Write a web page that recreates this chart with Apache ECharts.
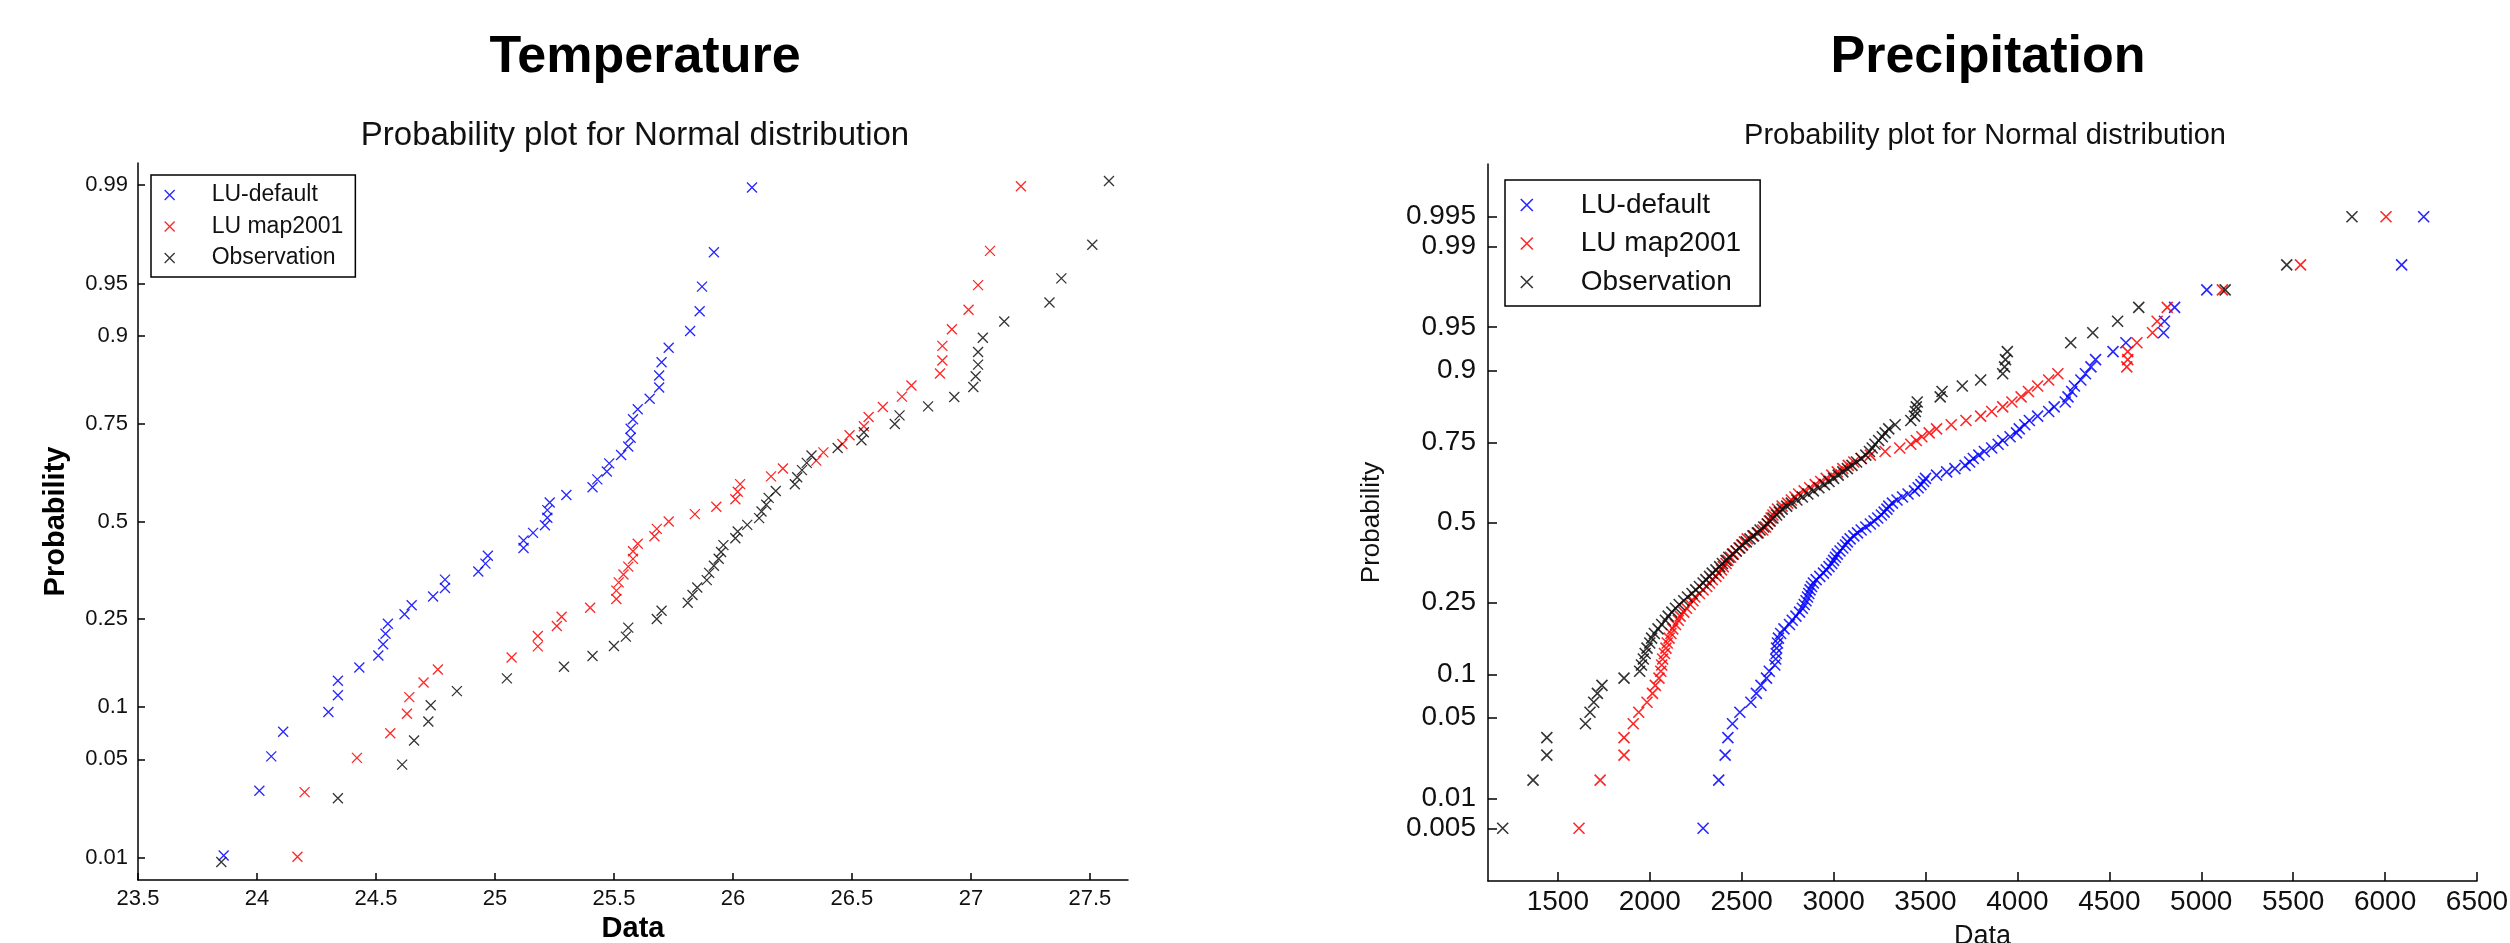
<!DOCTYPE html>
<html>
<head>
<meta charset="utf-8">
<script src="https://cdn.jsdelivr.net/npm/echarts@6/dist/echarts.min.js"></script>
<style>
  html, body { margin: 0; background: #fff; }
  #chart { width: 2510px; height: 943px; }
</style>
</head>
<body>
<div id="chart"></div>
<script>
// values (sorted data of each probability plot)
const tempDefault = [23.86, 24.01, 24.06, 24.11, 24.30, 24.34, 24.34, 24.43, 24.51, 24.53, 24.54, 24.55,
  24.62, 24.65, 24.74, 24.79, 24.79, 24.93, 24.96, 24.97, 25.12, 25.12, 25.16, 25.21, 25.22, 25.22,
  25.23, 25.30, 25.41, 25.43, 25.47, 25.48, 25.53, 25.56, 25.57, 25.57, 25.58, 25.60, 25.65, 25.69,
  25.69, 25.70, 25.73, 25.82, 25.86, 25.87, 25.92, 26.08];
const tempMap2001 = [24.17, 24.20, 24.42, 24.56, 24.63, 24.64, 24.70, 24.76, 25.07, 25.18, 25.18, 25.26,
  25.28, 25.40, 25.51, 25.51, 25.52, 25.54, 25.56, 25.58, 25.58, 25.60, 25.67, 25.68, 25.73, 25.84,
  25.93, 26.01, 26.02, 26.03, 26.16, 26.21, 26.35, 26.38, 26.46, 26.49, 26.55, 26.57, 26.63, 26.71,
  26.75, 26.87, 26.88, 26.88, 26.92, 26.99, 27.03, 27.08, 27.21];
const tempObs = [23.85, 24.34, 24.61, 24.66, 24.72, 24.73, 24.84, 25.05, 25.29, 25.41, 25.50, 25.55,
  25.56, 25.68, 25.70, 25.81, 25.83, 25.85, 25.89, 25.90, 25.92, 25.94, 25.95, 25.96, 26.01, 26.02,
  26.06, 26.11, 26.12, 26.14, 26.15, 26.18, 26.26, 26.27, 26.29, 26.31, 26.33, 26.44, 26.54, 26.55,
  26.68, 26.70, 26.82, 26.93, 27.01, 27.02, 27.03, 27.03, 27.05, 27.14, 27.33, 27.38, 27.51, 27.58];

const precDefault = [2290, 2375, 2410, 2425, 2450, 2490, 2550, 2580, 2605, 2635,
  2650, 2680, 2685, 2688, 2690, 2695, 2700, 2712, 2730, 2760,
  2775, 2795, 2815, 2830, 2840, 2850, 2858, 2865, 2872, 2880,
  2890, 2905, 2925, 2945, 2960, 2975, 2990, 3000, 3010, 3020,
  3035, 3050, 3065, 3075, 3090, 3110, 3130, 3150, 3175, 3200,
  3220, 3240, 3260, 3275, 3290, 3300, 3320, 3345, 3375, 3405,
  3440, 3460, 3475, 3490, 3500, 3560, 3615, 3660, 3715, 3740,
  3760, 3790, 3820, 3860, 3895, 3920, 3960, 3995, 4010, 4040,
  4065, 4110, 4170, 4200, 4260, 4275, 4295, 4310, 4345, 4370,
  4400, 4425, 4520, 4590, 4795, 4800, 4855, 5030, 6090, 6210];
const precMap2001 = [1615, 1730, 1860, 1860, 1910, 1940, 1985, 2015, 2030, 2050,
  2060, 2065, 2070, 2080, 2088, 2095, 2105, 2115, 2125, 2140,
  2155, 2165, 2185, 2200, 2220, 2235, 2245, 2270, 2290, 2310,
  2325, 2340, 2360, 2375, 2390, 2400, 2415, 2425, 2440, 2455,
  2470, 2485, 2500, 2515, 2530, 2560, 2590, 2615, 2630, 2640,
  2650, 2660, 2670, 2680, 2695, 2720, 2750, 2770, 2790, 2810,
  2840, 2870, 2900, 2930, 2960, 2990, 3020, 3050, 3080, 3110,
  3150, 3200, 3280, 3360, 3420, 3450, 3480, 3520, 3560, 3640,
  3720, 3800, 3860, 3920, 3970, 4020, 4060, 4110, 4170, 4220,
  4595, 4600, 4600, 4650, 4735, 4760, 4815, 5115, 5540, 6005];
const precObs = [1200, 1365, 1440, 1440, 1650, 1675, 1695, 1715, 1740, 1860,
  1945, 1955, 1965, 1975, 1985, 2000, 2010, 2025, 2045, 2065,
  2085, 2100, 2120, 2140, 2160, 2185, 2205, 2230, 2250, 2270,
  2290, 2305, 2325, 2340, 2360, 2380, 2395, 2415, 2430, 2450,
  2470, 2490, 2505, 2525, 2545, 2565, 2585, 2600, 2620, 2640,
  2655, 2670, 2690, 2705, 2720, 2745, 2770, 2800, 2830, 2860,
  2890, 2920, 2950, 2975, 3000, 3025, 3050, 3075, 3100, 3125,
  3150, 3175, 3195, 3210, 3225, 3245, 3265, 3280, 3300, 3335,
  3420, 3440, 3445, 3450, 3455, 3580, 3590, 3700, 3800, 3920,
  3930, 3935, 3945, 4290, 4410, 4545, 4660, 5130, 5465, 5820];

const seriesNames = ['LU-default', 'LU map2001', 'Observation'];
const seriesColors = ['#0000ff', '#ff0000', '#111111'];

const tempProbTicks = [0.01, 0.05, 0.1, 0.25, 0.5, 0.75, 0.9, 0.95, 0.99];
const precProbTicks = [0.005, 0.01, 0.05, 0.1, 0.25, 0.5, 0.75, 0.9, 0.95, 0.99, 0.995];
const tempDataTicks = [23.5, 24, 24.5, 25, 25.5, 26, 26.5, 27, 27.5];
const precDataTicks = [1500, 2000, 2500, 3000, 3500, 4000, 4500, 5000, 5500, 6000, 6500];

// inverse normal cdf (Acklam)
function norminv(p) {
  const a = [-3.969683028665376e+01, 2.209460984245205e+02, -2.759285104469687e+02, 1.383577518672690e+02, -3.066479806614716e+01, 2.506628277459239e+00];
  const b = [-5.447609879822406e+01, 1.615858368580409e+02, -1.556989798598866e+02, 6.680131188771972e+01, -1.328068155288572e+01];
  const c = [-7.784894002430293e-03, -3.223964580411365e-01, -2.400758277161838e+00, -2.549671010036536e+00, 4.374664141464968e+00, 2.938163982698783e+00];
  const d = [7.784695709041462e-03, 3.224671290700398e-01, 2.445134137142996e+00, 3.754408661907416e+00];
  const pl = 0.02425;
  let q, r;
  if (p < pl) {
    q = Math.sqrt(-2 * Math.log(p));
    return (((((c[0]*q+c[1])*q+c[2])*q+c[3])*q+c[4])*q+c[5]) / ((((d[0]*q+d[1])*q+d[2])*q+d[3])*q+1);
  }
  if (p > 1 - pl) {
    q = Math.sqrt(-2 * Math.log(1 - p));
    return -(((((c[0]*q+c[1])*q+c[2])*q+c[3])*q+c[4])*q+c[5]) / ((((d[0]*q+d[1])*q+d[2])*q+d[3])*q+1);
  }
  q = p - 0.5; r = q * q;
  return (((((a[0]*r+a[1])*r+a[2])*r+a[3])*r+a[4])*r+a[5])*q / (((((b[0]*r+b[1])*r+b[2])*r+b[3])*r+b[4])*r+1);
}

// probplot: sorted values against normal quantile of (i-0.5)/n
function probPoints(values) {
  const s = values.slice().sort((x, y) => x - y);
  return s.map((v, i) => [v, norminv((i + 0.5) / s.length)]);
}

function probLabel(ticks) {
  return function (val) {
    for (const t of ticks) if (Math.abs(norminv(t) - val) < 1e-6) return String(t);
    return '';
  };
}

const xMark = 'path://M0,0L10,10M10,0L0,10';
const font = 'Liberation Sans, Arial, sans-serif';

function scatterSeries(list, axisIdx, size, width) {
  return list.map((vals, k) => ({
    type: 'scatter',
    name: seriesNames[k],
    xAxisIndex: axisIdx,
    yAxisIndex: axisIdx,
    data: probPoints(vals),
    symbol: xMark,
    symbolSize: size,
    itemStyle: { color: 'rgba(0,0,0,0)', borderColor: seriesColors[k], borderWidth: width, opacity: 0.85 }
  }));
}

function legendData(width) {
  return seriesNames.map((n, k) => ({
    name: n,
    icon: xMark,
    itemStyle: { color: 'rgba(0,0,0,0)', borderColor: seriesColors[k], borderWidth: width, opacity: 0.85 }
  }));
}

const chart = echarts.init(document.getElementById('chart'), null, { renderer: 'canvas' });

chart.setOption({
  animation: false,
  backgroundColor: '#fff',
  textStyle: { fontFamily: font, color: '#111' },
  title: [
    { text: 'Temperature', left: 640, top: 27, textAlign: 'center',
      textStyle: { fontFamily: font, fontSize: 52, fontWeight: 'bold', color: '#000', lineHeight: 52 } },
    { text: 'Probability plot for Normal distribution', left: 630, top: 114, textAlign: 'center',
      textStyle: { fontFamily: font, fontSize: 33, fontWeight: 'normal', color: '#111', lineHeight: 34 } },
    { text: 'Precipitation', left: 1983, top: 27, textAlign: 'center',
      textStyle: { fontFamily: font, fontSize: 52, fontWeight: 'bold', color: '#000', lineHeight: 52 } },
    { text: 'Probability plot for Normal distribution', left: 1980, top: 116, textAlign: 'center',
      textStyle: { fontFamily: font, fontSize: 29, fontWeight: 'normal', color: '#111', lineHeight: 30 } }
  ],
  legend: [
    { data: legendData(1.3), orient: 'vertical', left: 151, top: 175,
      padding: [8, 12, 7, 13], itemWidth: 74, itemHeight: 10, itemGap: 7.5,
      borderColor: '#000', borderWidth: 1.5, backgroundColor: '#fff',
      textStyle: { fontFamily: font, fontSize: 23, lineHeight: 24, color: '#111' } },
    { data: legendData(1.6), orient: 'vertical', left: 1505, top: 180,
      padding: [10, 19, 9, 15], itemWidth: 98, itemHeight: 12, itemGap: 8.5,
      borderColor: '#000', borderWidth: 1.5, backgroundColor: '#fff',
      textStyle: { fontFamily: font, fontSize: 28, lineHeight: 30, color: '#111' } }
  ],
  grid: [
    { left: 138, top: 163, width: 990, height: 717, outerBoundsMode: 'none' },
    { left: 1488, top: 164, width: 989, height: 717, outerBoundsMode: 'none' }
  ],
  xAxis: [
    { type: 'value', gridIndex: 0, min: 23.5, max: 27.66,
      name: 'Data', nameLocation: 'middle', nameGap: 34,
      nameTextStyle: { fontFamily: font, fontSize: 29, fontWeight: 'bold', color: '#000' },
      axisLine: { onZero: false, lineStyle: { color: '#000', width: 1.5 } },
      axisTick: { inside: true, length: 7, customValues: tempDataTicks, lineStyle: { color: '#000', width: 1.5 } },
      axisLabel: { customValues: tempDataTicks, formatter: v => String(v), margin: 8, fontSize: 22, color: '#111', fontFamily: font },
      splitLine: { show: false } },
    { type: 'value', gridIndex: 1, min: 1120, max: 6500,
      name: 'Data', nameLocation: 'middle', nameGap: 42,
      nameTextStyle: { fontFamily: font, fontSize: 27, color: '#111' },
      axisLine: { onZero: false, lineStyle: { color: '#000', width: 1.5 } },
      axisTick: { inside: true, length: 9, customValues: precDataTicks, lineStyle: { color: '#000', width: 1.5 } },
      axisLabel: { customValues: precDataTicks, formatter: v => String(v), margin: 7, fontSize: 28, color: '#111', fontFamily: font },
      splitLine: { show: false } }
  ],
  yAxis: [
    { type: 'value', gridIndex: 0, min: -2.48, max: 2.48,
      name: 'Probability', nameLocation: 'middle', nameGap: 68, nameRotate: 90,
      nameTextStyle: { fontFamily: font, fontSize: 29, fontWeight: 'bold', color: '#000' },
      axisLine: { onZero: false, lineStyle: { color: '#000', width: 1.5 } },
      axisTick: { inside: true, length: 7, customValues: tempProbTicks.map(norminv), lineStyle: { color: '#000', width: 1.5 } },
      axisLabel: { customValues: tempProbTicks.map(norminv), formatter: probLabel(tempProbTicks),
        margin: 10, fontSize: 22, color: '#111', fontFamily: font },
      splitLine: { show: false } },
    { type: 'value', gridIndex: 1, min: -3.02, max: 3.02,
      name: 'Probability', nameLocation: 'middle', nameGap: 103, nameRotate: 90,
      nameTextStyle: { fontFamily: font, fontSize: 26, color: '#111' },
      axisLine: { onZero: false, lineStyle: { color: '#000', width: 1.5 } },
      axisTick: { inside: true, length: 9, customValues: precProbTicks.map(norminv), lineStyle: { color: '#000', width: 1.5 } },
      axisLabel: { customValues: precProbTicks.map(norminv), formatter: probLabel(precProbTicks),
        margin: 12, fontSize: 28, color: '#111', fontFamily: font },
      splitLine: { show: false } }
  ],
  series: scatterSeries([tempDefault, tempMap2001, tempObs], 0, 10, 1.3)
    .concat(scatterSeries([precDefault, precMap2001, precObs], 1, 11, 1.6))
});
</script>
</body>
</html>
